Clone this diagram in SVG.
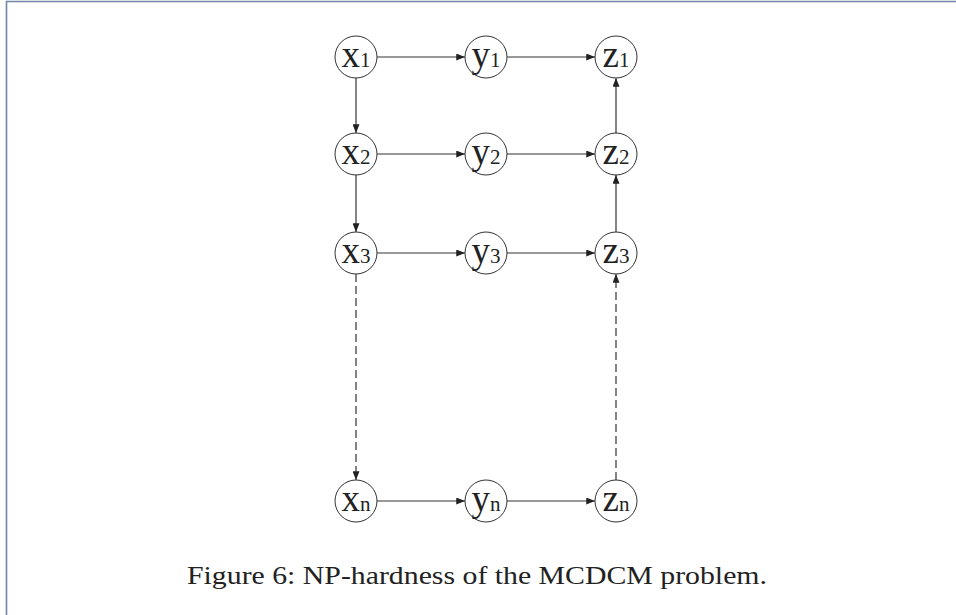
<svg xmlns="http://www.w3.org/2000/svg" width="956" height="615" viewBox="0 0 956 615">
<style>
.n circle{fill:#fff;stroke:#333;stroke-width:1}
.n text{font-family:"Liberation Serif","Times New Roman",serif;font-size:37px;fill:#222;text-anchor:middle}
.n tspan.s{font-size:21px}
.e line{stroke:#333;stroke-width:1.2;marker-end:url(#ah)}
.e line.d{stroke-dasharray:8 4}
.cap{font-family:"Liberation Serif","Times New Roman",serif;font-size:25px;fill:#222;text-anchor:middle}
</style>
<defs>
<marker id="ah" viewBox="0 0 10 8" refX="10" refY="4" markerWidth="9" markerHeight="7" markerUnits="userSpaceOnUse" orient="auto">
<path d="M0,0 L10,4 L0,8 Z" fill="#222"/>
</marker>
</defs>
<rect width="956" height="615" fill="#fff"/>
<path d="M6.5,615 V1.5 H956" fill="none" stroke="#6f84a6" stroke-width="1.6"/>
<g class="e" id="connectors">
<line x1="377" y1="57" x2="465" y2="57"/>
<line x1="507" y1="57" x2="595" y2="57"/>
<line x1="377" y1="154" x2="465" y2="154"/>
<line x1="507" y1="154" x2="595" y2="154"/>
<line x1="377" y1="253" x2="465" y2="253"/>
<line x1="507" y1="253" x2="595" y2="253"/>
<line x1="377" y1="501" x2="465" y2="501"/>
<line x1="507" y1="501" x2="595" y2="501"/>
<line x1="356" y1="78" x2="356" y2="133"/>
<line x1="356" y1="175" x2="356" y2="232"/>
<line class="d" x1="356" y1="274" x2="356" y2="480"/>
<line x1="616" y1="133" x2="616" y2="78"/>
<line x1="616" y1="232" x2="616" y2="175"/>
<line class="d" x1="616" y1="480" x2="616" y2="274"/>
</g>
<g class="n" id="x1"><circle cx="356" cy="57" r="21"/><text x="356" y="67">x<tspan class="s">1</tspan></text></g>
<g class="n" id="y1"><circle cx="486" cy="57" r="21"/><text x="486" y="67">y<tspan class="s">1</tspan></text></g>
<g class="n" id="z1"><circle cx="616" cy="57" r="21"/><text x="616" y="67">z<tspan class="s">1</tspan></text></g>
<g class="n" id="x2"><circle cx="356" cy="154" r="21"/><text x="356" y="164">x<tspan class="s">2</tspan></text></g>
<g class="n" id="y2"><circle cx="486" cy="154" r="21"/><text x="486" y="164">y<tspan class="s">2</tspan></text></g>
<g class="n" id="z2"><circle cx="616" cy="154" r="21"/><text x="616" y="164">z<tspan class="s">2</tspan></text></g>
<g class="n" id="x3"><circle cx="356" cy="253" r="21"/><text x="356" y="263">x<tspan class="s">3</tspan></text></g>
<g class="n" id="y3"><circle cx="486" cy="253" r="21"/><text x="486" y="263">y<tspan class="s">3</tspan></text></g>
<g class="n" id="z3"><circle cx="616" cy="253" r="21"/><text x="616" y="263">z<tspan class="s">3</tspan></text></g>
<g class="n" id="xn"><circle cx="356" cy="501" r="21"/><text x="356" y="511">x<tspan class="s">n</tspan></text></g>
<g class="n" id="yn"><circle cx="486" cy="501" r="21"/><text x="486" y="511">y<tspan class="s">n</tspan></text></g>
<g class="n" id="zn"><circle cx="616" cy="501" r="21"/><text x="616" y="511">z<tspan class="s">n</tspan></text></g>
<text class="cap" x="477" y="584" textLength="580" lengthAdjust="spacingAndGlyphs">Figure 6: NP-hardness of the MCDCM problem.</text>
</svg>
